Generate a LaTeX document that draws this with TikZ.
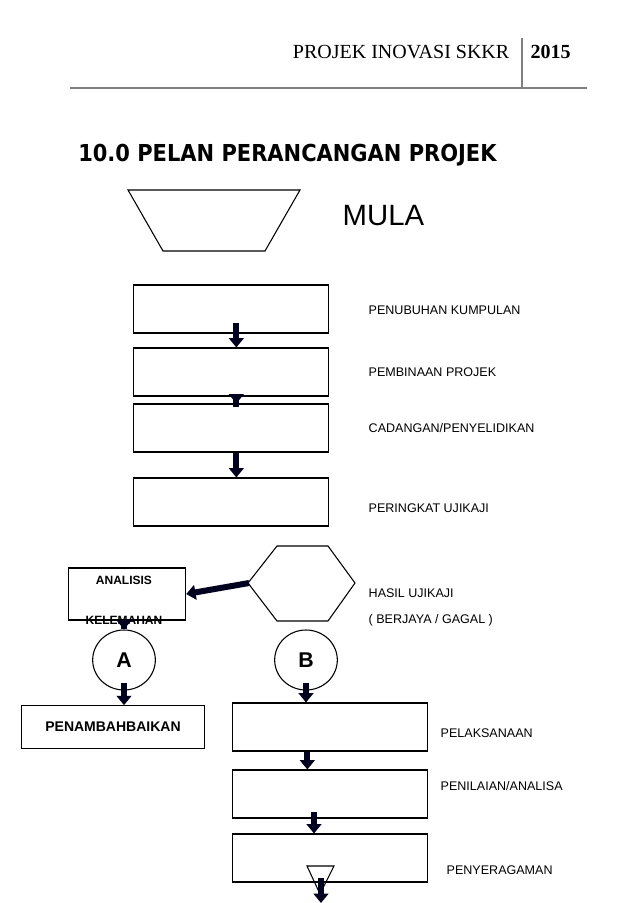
\documentclass[tikz,border=0pt]{standalone}
\usepackage{fontspec}
\setmainfont{Liberation Sans}
\newfontfamily\headfont{Liberation Serif}
\newfontfamily\titlefont{DejaVu Sans Condensed}
\usetikzlibrary{positioning,arrows.meta,shapes.geometric}

\begin{document}
\begin{tikzpicture}[x=0.75pt, y=-0.75pt,
    stepbox/.style={draw=black, thick, minimum width=146pt, minimum height=36pt},
    roundnode/.style={ellipse, draw=black, thick, minimum width=47pt, minimum height=45pt, inner sep=0pt},
    steplabel/.style={anchor=west, font=\fontsize{9.4}{11}\selectfont},
    blockarrow/.style={draw=black!80!blue!60!black, line width=4.5pt, -{Triangle[width=11pt,length=7pt]}}]
    \useasboundingbox (0,0) rectangle (638,903);

    % Header
    \node[anchor=east, font=\headfont\fontsize{15}{17}\selectfont] (hd) at (514,52) {PROJEK INOVASI SKKR};
    \node[anchor=west, font=\headfont\bfseries\fontsize{15}{17}\selectfont] (yr) at (526,52) {2015};
    \draw[gray, line width=1.5pt] (70,88) -- (587,88);
    \draw[gray, line width=1.5pt] (522,38) -- (522,88);
    \node[anchor=west, font=\titlefont\bfseries\fontsize{17.5}{20}\selectfont, inner sep=0pt] (title) at (78,155) {10.0 PELAN PERANCANGAN PROJEK};

    % Start
    \draw[thick] (128,190) -- (300,190) -- (265,251) -- (163,251) -- cycle;
    \node[steplabel, font=\fontsize{22}{24}\selectfont] (mula) at (338,216) {MULA};

    % Steps
    \node[stepbox] (b1) at (231,309) {};
    \node[stepbox] (b2) at (231,372) {};
    \node[stepbox] (b3) at (231,428) {};
    \node[stepbox] (b4) at (231,502) {};
    \node[steplabel] (l1) at (364,310) {PENUBUHAN KUMPULAN};
    \node[steplabel] (l2) at (364,372) {PEMBINAAN PROJEK};
    \node[steplabel] (l3) at (364,428) {CADANGAN/PENYELIDIKAN};
    \node[steplabel] (l4) at (364,508) {PERINGKAT UJIKAJI};

    % Result
    \draw[thick] (248,583) -- (277,546) -- (328,546) -- (355,583) -- (328,621) -- (277,621) -- cycle;
    \coordinate (hx) at (249,583);
    \node[steplabel] (l5) at (364,593) {HASIL UJIKAJI};
    \node[steplabel] (l6) at (364,620) {( BERJAYA / GAGAL )};
    \node[draw=black, thick, minimum width=88pt, minimum height=39pt] (an) at (127,594) {};
    \node[font=\bfseries\fontsize{9}{11}\selectfont] (an1) at (124,580) {ANALISIS};
    \node[font=\bfseries\fontsize{9}{11}\selectfont] (an2) at (124,620) {KELEMAHAN};
    \node[roundnode, font=\bfseries\fontsize{16}{18}\selectfont] (A) at (124,660) {A};
    \node[roundnode, font=\bfseries\fontsize{16}{18}\selectfont] (B) at (306,660) {B};
    \node[draw=black, thick, minimum width=137pt, minimum height=32pt, font=\bfseries\fontsize{10.5}{12}\selectfont] (pb) at (113,727) {PENAMBAHBAIKAN};

    % Implementation
    \node[stepbox] (b5) at (330,727) {};
    \node[stepbox] (b6) at (330,794) {};
    \node[stepbox] (b7) at (330,858) {};
    \node[steplabel] (l7) at (436,733) {PELAKSANAAN};
    \node[steplabel] (l8) at (436,786) {PENILAIAN/ANALISA};
    \node[steplabel] (l9) at (442,870) {PENYERAGAMAN};
    \draw[thick] (307,866) -- (334,866) -- (320,894) -- cycle;
    \coordinate (tri) at (321,878);
    \coordinate (end) at (321,903);

    % Edges
    \draw[blockarrow, shorten <=-8pt] ([xshift=4]b1.south) -- ([xshift=4]b2.north);
    \draw[blockarrow, shorten <=-8pt] ([xshift=4]b2.south) -- ([xshift=4]b3.north);
    \draw[blockarrow] ([xshift=4]b3.south) -- ([xshift=4]b4.north);
    \draw[blockarrow] (hx) -- (an.east);
    \draw[blockarrow] (an2) -- (A.north);
    \draw[blockarrow, shorten <=-6pt] (A.south) -- (pb.north -| A);
    \draw[blockarrow, shorten <=-6pt] (B.south) -- (b5.north -| B);
    \draw[blockarrow] ([xshift=-17]b5.south) -- ([xshift=-17]b6.north);
    \draw[blockarrow, shorten <=-5pt] ([xshift=-12]b6.south) -- ([xshift=-12]b7.north);
    \draw[blockarrow] (tri) -- (end);
\end{tikzpicture}
\end{document}
